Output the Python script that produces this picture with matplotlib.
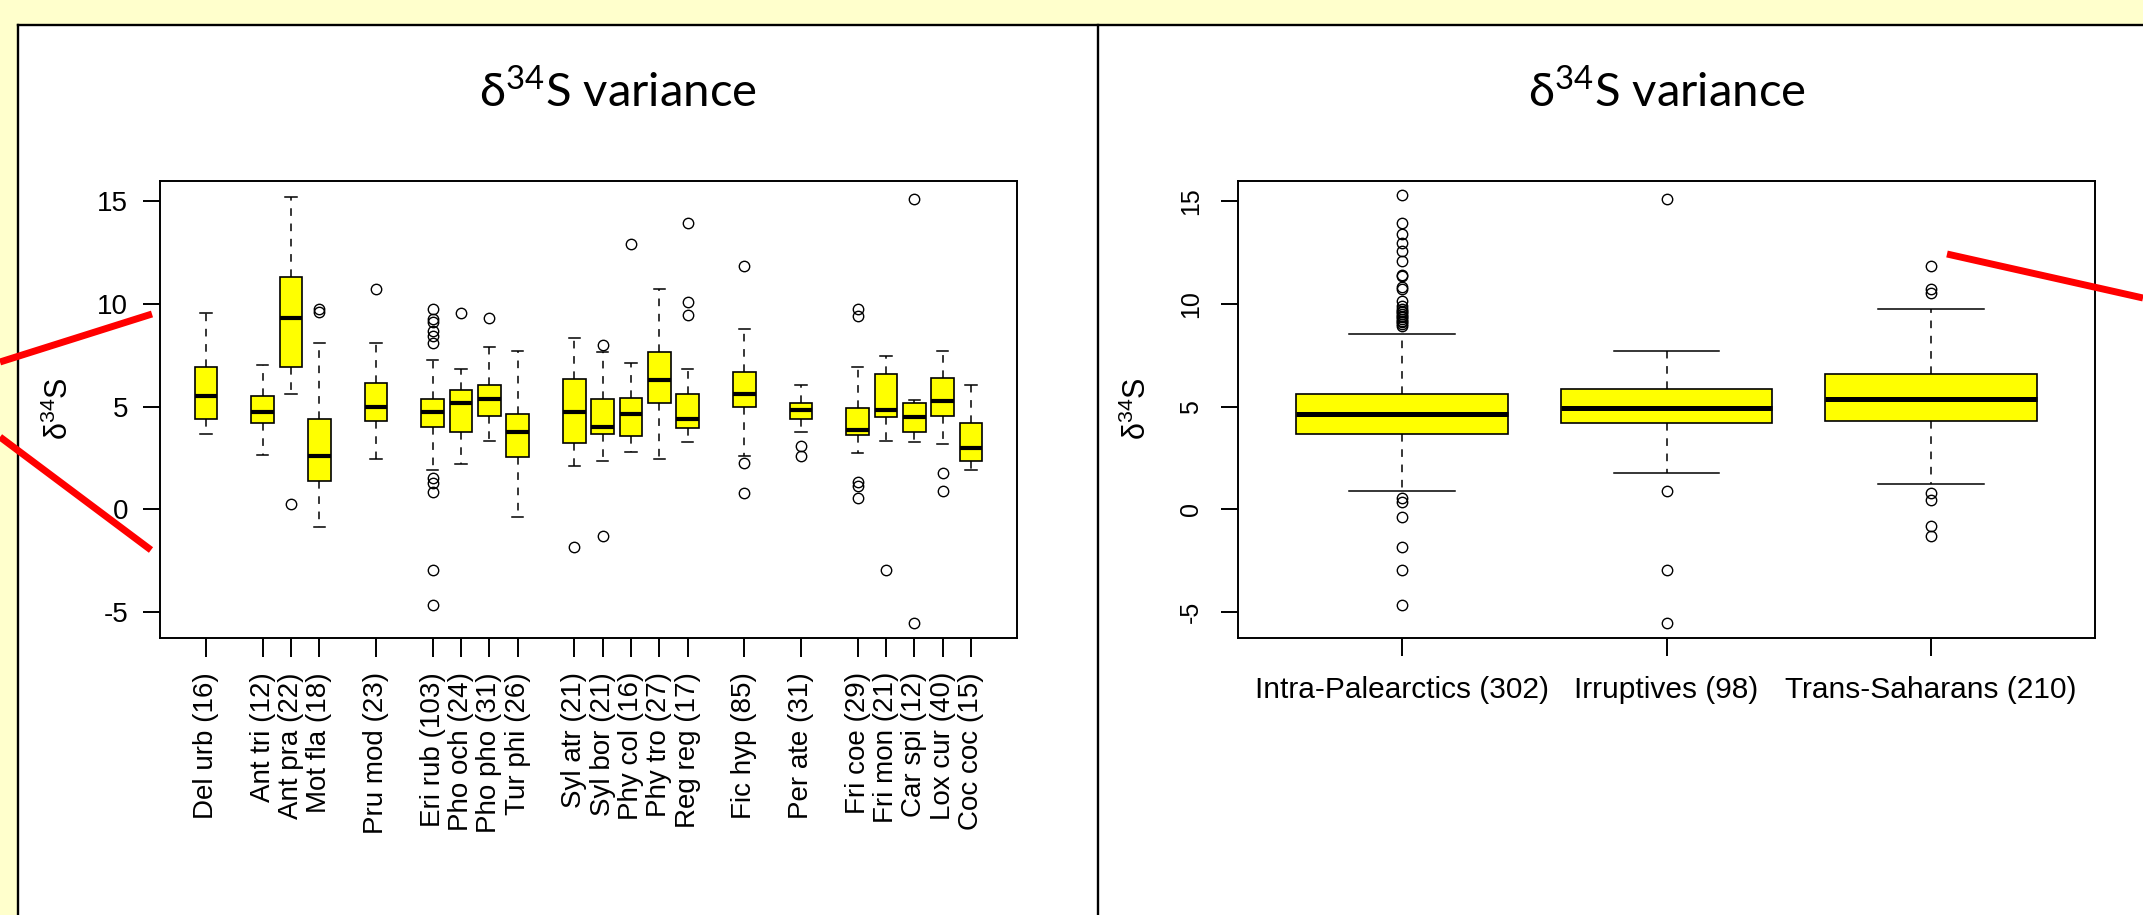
import matplotlib
matplotlib.use("Agg")
import matplotlib.pyplot as plt
from matplotlib.patches import Rectangle

# --- data (whisker low, Q1, median, Q3, whisker high, outliers) ---
species_labels = ["Del urb (16)", "Ant tri (12)", "Ant pra (22)", "Mot fla (18)",
                  "Pru mod (23)", "Eri rub (103)", "Pho och (24)", "Pho pho (31)",
                  "Tur phi (26)", "Syl atr (21)", "Syl bor (21)", "Phy col (16)",
                  "Phy tro (27)", "Reg reg (17)", "Fic hyp (85)", "Per ate (31)",
                  "Fri coe (29)", "Fri mon (21)", "Car spi (12)", "Lox cur (40)",
                  "Coc coc (15)"]
species_pos = [1, 3, 4, 5, 7, 9, 10, 11, 12, 14, 15, 16, 17, 18, 20, 22, 24, 25, 26, 27, 28]
species_whislo = [3.68, 2.64, 5.63, -0.88, 2.46, 1.92, 2.20, 3.34, -0.36, 2.12, 2.36,
                  2.80, 2.46, 3.26, 2.62, 3.77, 2.72, 3.34, 3.26, 3.16, 1.92]
species_q1 = [4.38, 4.19, 6.93, 1.40, 4.29, 4.03, 3.75, 4.53, 2.54, 3.23, 3.67,
              3.59, 5.17, 3.94, 4.99, 4.40, 3.60, 4.48, 3.77, 4.55, 2.36]
species_med = [5.53, 4.74, 9.31, 2.62, 5.00, 4.74, 5.19, 5.35, 3.78, 4.74, 4.03,
               4.66, 6.31, 4.40, 5.63, 4.83, 3.86, 4.83, 4.48, 5.27, 2.98]
species_q3 = [6.95, 5.53, 11.33, 4.40, 6.16, 5.36, 5.80, 6.07, 4.65, 6.33, 5.36,
              5.43, 7.65, 5.63, 6.68, 5.20, 4.91, 6.59, 5.19, 6.41, 4.21]
species_whishi = [9.55, 7.01, 15.22, 8.09, 8.09, 7.27, 6.85, 7.89, 7.71, 8.33, 7.66,
                  7.12, 10.73, 6.85, 8.77, 6.05, 6.93, 7.45, 5.30, 7.71, 6.05]
species_fliers = [[], [], [0.26], [9.59, 9.75], [10.71],
                  [9.75, 9.26, 9.10, 8.70, 8.44, 8.09, 1.52, 1.27, 0.86, -2.97, -4.65],
                  [9.55], [9.29], [], [-1.84], [8.0, -1.31], [12.9], [],
                  [13.96, 10.09, 9.47], [11.84, 2.28, 0.80], [3.10, 2.62],
                  [9.75, 9.42, 1.35, 1.14, 0.54], [-2.97], [15.08, -5.53], [1.76, 0.88], []]

group_labels = ["Intra-Palearctics (302)", "Irruptives (98)", "Trans-Saharans (210)"]
group_whislo = [0.88, 1.76, 1.24]
group_q1 = [3.67, 4.21, 4.29]
group_med = [4.65, 4.91, 5.35]
group_q3 = [5.63, 5.87, 6.59]
group_whishi = [8.53, 7.71, 9.73]
group_fliers = [[15.3, 13.96, 13.42, 12.98, 12.58, 12.07, 11.41, 11.35, 10.81, 10.73,
                 10.16, 9.9, 9.75, 9.65, 9.59, 9.5, 9.42, 9.35, 9.26, 9.18, 9.10, 9.02, 8.94,
                 0.54, 0.38, -0.36, -1.84, -2.97, -4.65],
                [15.1, 0.88, -2.97, -5.53],
                [11.84, 10.7, 10.53, 0.81, 0.45, -0.82, -1.31]]

y_ticks = [-5, 0, 5, 10, 15]
title_text = r"δ$^{\mathsf{34}}$S variance"
ylabel_text = r"δ$^{\mathrm{34}}$S"

# --- fonts: Arial-like for the R parts, Lato standing in for the slide's Calibri ---
ARIAL = ["Liberation Sans", "DejaVu Sans"]
TITLE_FONT = ["Lato", "DejaVu Sans"]
plt.rcParams["mathtext.fontset"] = "custom"
plt.rcParams["mathtext.rm"] = "Liberation Sans"
plt.rcParams["mathtext.sf"] = "Lato"

W, H = 2143, 915
fig = plt.figure(figsize=(W / 100, H / 100), dpi=100, facecolor="#FFFFCC")

# slide panels
bg = fig.add_axes([0, 0, 1, 1], zorder=0)
bg.set_xlim(0, W)
bg.set_ylim(H, 0)
bg.axis("off")
bg.add_patch(Rectangle((18, 25), W, H, facecolor="white", edgecolor="none"))
for xs, ys in [([18, W], [25, 25]), ([18, 18], [25, H]), ([1098, 1098], [25, H])]:
    bg.plot(xs, ys, color="black", lw=1.7, solid_capstyle="projecting")
bg.text(618, 92, title_text, ha="center", va="center", fontsize=34, family=TITLE_FONT)
bg.text(1667, 92, title_text, ha="center", va="center", fontsize=34, family=TITLE_FONT)


def px_axes(x0, y0, x1, y1):
    return fig.add_axes([x0 / W, 1 - y1 / H, (x1 - x0) / W, (y1 - y0) / H], zorder=1)


def make_stats(lo, q1, med, q3, hi, fl):
    return [dict(whislo=a, q1=b, med=c, q3=d, whishi=e, fliers=f)
            for a, b, c, d, e, f in zip(lo, q1, med, q3, hi, fl)]


def draw_boxes(ax, stats, pos, med_lw, ms):
    ax.bxp(stats, positions=pos, widths=0.8, patch_artist=True, manage_ticks=False,
           boxprops=dict(facecolor="yellow", edgecolor="black", linewidth=1.2),
           medianprops=dict(color="black", linewidth=med_lw, solid_capstyle="butt"),
           whiskerprops=dict(color="black", linewidth=1.1, linestyle=(0, (5, 5))),
           capprops=dict(color="black", linewidth=1.1),
           flierprops=dict(marker="o", markerfacecolor="none", markeredgecolor="black",
                           markersize=ms, markeredgewidth=1.0))
    ax.set_ylim(-6.26, 15.98)
    ax.set_yticks(y_ticks)
    for sp in ax.spines.values():
        sp.set_linewidth(1.4)


# --- left: by species ---
ax1 = px_axes(160, 181, 1017, 638)
draw_boxes(ax1, make_stats(species_whislo, species_q1, species_med, species_q3,
                           species_whishi, species_fliers), species_pos, 3.0, 7.5)
ax1.set_xlim(-0.62, 29.62)
ax1.set_xticks(species_pos)
ax1.set_xticklabels(species_labels, rotation=90, fontsize=20, family=ARIAL)
ax1.set_yticklabels([str(t) for t in y_ticks], fontsize=20, family=ARIAL)
ax1.tick_params(axis="y", length=12, width=1.4, pad=11)
ax1.tick_params(axis="x", length=13.5, width=1.4, pad=11)
ax1.set_ylabel(ylabel_text, fontsize=22, family=ARIAL, va="center")
ax1.yaxis.set_label_coords(-0.118, 0.503)

# --- right: by migration group ---
ax2 = px_axes(1238, 181, 2095, 638)
draw_boxes(ax2, make_stats(group_whislo, group_q1, group_med, group_q3,
                           group_whishi, group_fliers), [1, 2, 3], 3.6, 7.5)
ax2.set_xlim(0.38, 3.62)
ax2.set_xticks([1, 2, 3])
ax2.set_xticklabels(group_labels, fontsize=21.5, family=ARIAL)
ax2.set_yticklabels([str(t) for t in y_ticks], fontsize=18, family=ARIAL,
                    rotation=90, va="center")
ax2.tick_params(axis="y", length=12, width=1.4, pad=13)
ax2.tick_params(axis="x", length=13, width=1.4, pad=14)
ax2.set_ylabel(ylabel_text, fontsize=22, family=ARIAL, va="center")
ax2.yaxis.set_label_coords(-0.118, 0.503)

# red pointer lines drawn over the slide
over = fig.add_axes([0, 0, 1, 1], zorder=5)
over.set_xlim(0, W)
over.set_ylim(H, 0)
over.axis("off")
for xs, ys in [([0, 152], [362, 314]), ([0, 151], [437, 550]), ([1947, W], [254, 298])]:
    over.plot(xs, ys, color="red", lw=5, solid_capstyle="butt")

fig.savefig("out.png", dpi=100, facecolor=fig.get_facecolor())
